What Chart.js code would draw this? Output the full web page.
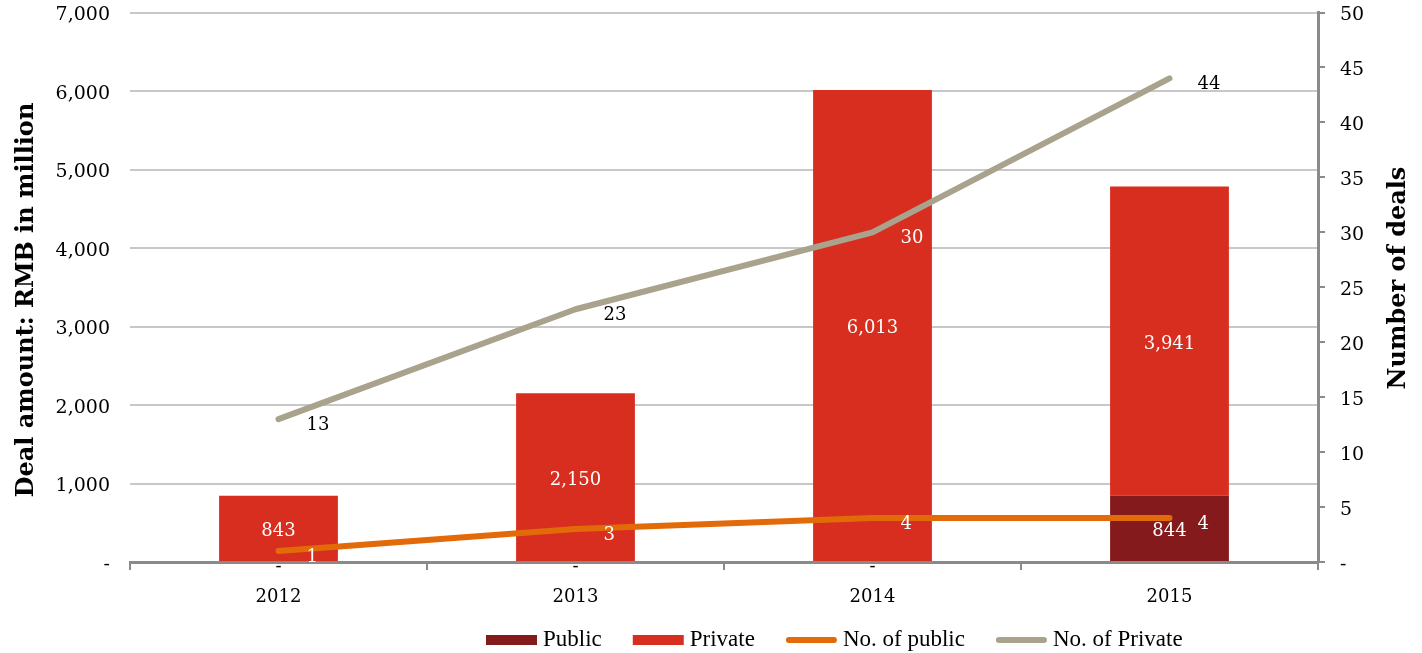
<!DOCTYPE html>
<html>
<head>
<meta charset="utf-8">
<title>Deals by year</title>
<script src="https://cdn.jsdelivr.net/npm/chart.js@4.4.0/dist/chart.umd.min.js"></script>
<style>
    html, body { margin: 0; padding: 0; background: #ffffff; }
    #wrap { width: 1422px; height: 653px; }
</style>
</head>
<body>
<div id="wrap"><canvas id="dealChart" width="1422" height="653"></canvas></div>
<script>
// ---------- data ----------
const years = ['2012', '2013', '2014', '2015'];
const publicAmount = [0, 0, 0, 844];          // RMB million
const privateAmount = [843, 2150, 6013, 3941]; // RMB million
const publicDeals = [1, 3, 4, 4];
const privateDeals = [13, 23, 30, 44];
const amountTicks = [0, 1000, 2000, 3000, 4000, 5000, 6000, 7000];
const dealTicks = [0, 5, 10, 15, 20, 25, 30, 35, 40, 45, 50];

// ---------- colours / fonts ----------
const COLORS = {
    public: '#841A1B',
    private: '#D72E1F',
    publicLine: '#E36A08',
    privateLine: '#A9A38D',
    grid: '#C8C8C8',
    axis: '#8A8A8A',
    text: '#000000'
};
const SERIF = '"DejaVu Serif", serif';
const LEGEND_FONT = '23px "Liberation Serif", serif';

const fmt = v => v === 0 ? '-' : v.toLocaleString('en-US');

// value labels on bars and line points
const valueLabels = {
    id: 'valueLabels',
    afterDatasetsDraw(chart) {
        const ctx = chart.ctx;
        const barMetas = chart.data.datasets
            .map((ds, i) => chart.getDatasetMeta(i))
            .filter(m => m.type === 'bar');

        // is a point covered by one of the bars?
        const onBar = (x, y) => barMetas.some(m => m.data.some(el => {
            const p = el.getProps(['x', 'y', 'base', 'width'], true);
            return x >= p.x - p.width / 2 && x <= p.x + p.width / 2 &&
                   y >= Math.min(p.y, p.base) && y <= Math.max(p.y, p.base);
        }));

        ctx.save();
        ctx.font = '18px ' + SERIF;
        ctx.textBaseline = 'middle';
        chart.data.datasets.forEach((ds, di) => {
            const meta = chart.getDatasetMeta(di);
            meta.data.forEach((el, i) => {
                const v = ds.data[i];
                if (meta.type === 'bar') {
                    const p = el.getProps(['x', 'y', 'base'], true);
                    ctx.textAlign = 'center';
                    if (v === 0) {
                        ctx.fillStyle = COLORS.text;
                        ctx.fillText('-', p.x, p.base + 5);
                    } else {
                        ctx.fillStyle = '#ffffff';
                        ctx.fillText(fmt(v), p.x, (p.y + p.base) / 2 + 3);
                    }
                } else {
                    const lx = el.x + 28;
                    const ly = el.y + 6;
                    ctx.textAlign = 'left';
                    ctx.fillStyle = onBar(lx + 5, ly) ? '#ffffff' : COLORS.text;
                    ctx.fillText(String(v), lx, ly);
                }
            });
        });
        ctx.restore();
    }
};

// rotated axis titles (both read bottom to top)
const axisTitles = {
    id: 'axisTitles',
    afterDraw(chart) {
        const ctx = chart.ctx;
        const drawTitle = (text, x, y) => {
            ctx.save();
            ctx.translate(x, y);
            ctx.rotate(-Math.PI / 2);
            ctx.font = 'bold 24px ' + SERIF;
            ctx.fillStyle = COLORS.text;
            ctx.textAlign = 'center';
            ctx.textBaseline = 'middle';
            ctx.fillText(text, 0, 0);
            ctx.restore();
        };
        drawTitle('Deal amount: RMB in million', 27, 300);
        drawTitle('Number of deals', 1399, 278);
    }
};

// legend row under the chart
const bottomLegend = {
    id: 'bottomLegend',
    afterDraw(chart) {
        const ctx = chart.ctx;
        const cy = 640;
        const boxW = 51, boxH = 10, gap = 6, itemGap = 31;
        let x = 486;
        ctx.save();
        ctx.font = LEGEND_FONT;
        ctx.textBaseline = 'middle';
        ctx.textAlign = 'left';
        chart.data.datasets.forEach(ds => {
            if (ds.type === 'line') {
                ctx.strokeStyle = ds.borderColor;
                ctx.lineWidth = 6;
                ctx.lineCap = 'round';
                ctx.beginPath();
                ctx.moveTo(x + 3, cy);
                ctx.lineTo(x + boxW - 3, cy);
                ctx.stroke();
            } else {
                ctx.fillStyle = ds.backgroundColor;
                ctx.fillRect(x, cy - boxH / 2, boxW, boxH);
            }
            x += boxW + gap;
            ctx.fillStyle = COLORS.text;
            ctx.fillText(ds.label, x, cy);
            x += ctx.measureText(ds.label).width + itemGap;
        });
        ctx.restore();
    }
};

// keep the plot area exactly where the value axes put it
const noEdgePadding = scale => { scale.paddingTop = 0; scale.paddingBottom = 0; };

new Chart(document.getElementById('dealChart'), {
    data: {
        labels: years,
        datasets: [
            {
                type: 'bar',
                label: 'Public',
                data: publicAmount,
                yAxisID: 'y',
                backgroundColor: COLORS.public,
                barPercentage: 0.4,
                categoryPercentage: 1.0,
                order: 1
            },
            {
                type: 'bar',
                label: 'Private',
                data: privateAmount,
                yAxisID: 'y',
                backgroundColor: COLORS.private,
                barPercentage: 0.4,
                categoryPercentage: 1.0,
                order: 1
            },
            {
                type: 'line',
                label: 'No. of public',
                data: publicDeals,
                yAxisID: 'y1',
                borderColor: COLORS.publicLine,
                backgroundColor: COLORS.publicLine,
                borderWidth: 6,
                borderCapStyle: 'round',
                borderJoinStyle: 'round',
                pointRadius: 0,
                tension: 0,
                order: 0
            },
            {
                type: 'line',
                label: 'No. of Private',
                data: privateDeals,
                yAxisID: 'y1',
                borderColor: COLORS.privateLine,
                backgroundColor: COLORS.privateLine,
                borderWidth: 6,
                borderCapStyle: 'round',
                borderJoinStyle: 'round',
                pointRadius: 0,
                tension: 0,
                order: 0
            }
        ]
    },
    options: {
        responsive: false,
        animation: false,
        layout: { padding: { top: 12.5, left: 0, right: 0, bottom: 50 } },
        plugins: {
            legend: { display: false },
            tooltip: { enabled: false }
        },
        scales: {
            x: {
                stacked: true,
                grid: {
                    offset: true,
                    drawOnChartArea: false,
                    drawTicks: true,
                    tickLength: 8,
                    color: COLORS.axis,
                    lineWidth: 2
                },
                border: { display: true, color: COLORS.axis, width: 3 },
                ticks: {
                    font: { family: SERIF, size: 18 },
                    color: COLORS.text,
                    padding: 17
                },
                afterFit(scale) { scale.height = 41; }
            },
            y: {
                stacked: true,
                position: 'left',
                min: amountTicks[0],
                max: amountTicks[amountTicks.length - 1],
                afterBuildTicks(scale) { scale.ticks = amountTicks.map(v => ({ value: v })); },
                grid: { color: COLORS.grid, lineWidth: 2, drawTicks: false },
                border: { display: false },
                ticks: {
                    font: { family: SERIF, size: 19 },
                    color: COLORS.text,
                    padding: 20,
                    labelOffset: 3,
                    callback: v => fmt(v)
                },
                afterFit(scale) { scale.width = 130; noEdgePadding(scale); }
            },
            y1: {
                position: 'right',
                stacked: false,
                min: dealTicks[0],
                max: dealTicks[dealTicks.length - 1],
                afterBuildTicks(scale) { scale.ticks = dealTicks.map(v => ({ value: v })); },
                grid: {
                    drawOnChartArea: false,
                    drawTicks: true,
                    tickLength: 7,
                    color: COLORS.axis,
                    lineWidth: 2
                },
                border: { display: true, color: COLORS.axis, width: 3 },
                ticks: {
                    font: { family: SERIF, size: 19 },
                    color: COLORS.text,
                    padding: 15,
                    labelOffset: 3,
                    callback: v => fmt(v)
                },
                afterFit(scale) { scale.width = 104; noEdgePadding(scale); }
            }
        }
    },
    plugins: [valueLabels, axisTitles, bottomLegend]
});
</script>
</body>
</html>
